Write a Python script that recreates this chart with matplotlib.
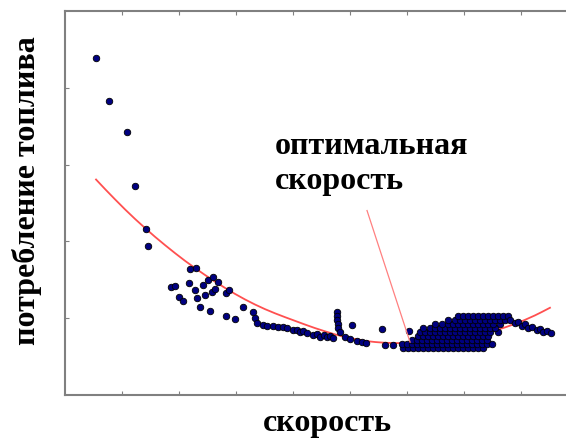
import matplotlib
matplotlib.use("Agg")
import matplotlib.pyplot as plt

# speed (km/h) vs fuel use (l/100 km)
sparse_speed = [10.9, 15.4, 21.8, 24.6, 28.4, 29.1, 43.9, 46.0, 37.2, 38.6,
                40.0, 41.4, 43.5, 45.6, 46.3, 47.4, 48.4, 49.1, 50.2, 50.9,
                51.9, 51.6, 52.6, 53.7, 56.5, 57.5, 56.5, 59.6, 62.5, 66.0,
                66.7, 67.4, 69.5, 70.9, 73.0, 74.7, 76.5, 77.9, 80.0, 81.4,
                82.5, 83.5, 84.9, 87.0, 88.4, 89.5, 90.9, 91.9, 93.0, 94.0,
                95.4, 95.4, 95.4, 95.8, 95.8, 96.5, 98.2, 100.7, 100.0, 102.5,
                104.2, 105.6, 111.2, 112.3, 115.1, 120.7]
sparse_fuel = [21.95, 19.16, 17.14, 13.64, 10.78, 9.68, 8.18, 8.25, 7.01, 7.08,
               6.36, 6.10, 7.27, 6.82, 6.30, 5.71, 7.14, 6.49, 7.47, 5.45,
               7.66, 6.69, 6.88, 7.34, 6.62, 6.82, 5.13, 4.94, 5.71, 5.39,
               5.00, 4.68, 4.55, 4.48, 4.48, 4.42, 4.42, 4.35, 4.22, 4.22,
               4.09, 4.16, 4.03, 3.90, 3.96, 3.77, 3.90, 3.77, 3.83, 3.70,
               5.39, 5.13, 4.87, 4.61, 4.35, 4.09, 3.77, 4.55, 3.64, 3.51,
               3.44, 3.38, 4.29, 3.25, 3.25, 4.16]

# dense group at high speed, one list of speeds per fuel level
row_fuel = [3.05, 3.31, 3.57, 3.83, 4.09, 4.35, 4.61, 4.87, 5.13]
row_speeds = [
    [118.6, 120.35, 122.1, 123.9, 125.6, 127.4, 129.1, 130.9, 132.6, 134.4,
     136.1, 137.9, 139.6, 141.4, 143.2, 144.9, 146.7],
    [118.25, 120.0, 121.75, 123.5, 125.3, 127.0, 128.8, 130.5, 132.3, 134.0,
     135.8, 137.5, 139.3, 141.1, 142.8, 144.6, 146.3, 148.1, 149.8],
    [121.75, 123.5, 125.3, 127.0, 128.8, 130.5, 132.3, 134.0, 135.8, 137.5,
     139.3, 141.1, 142.8, 144.6, 146.3, 148.1],
    [123.9, 125.6, 127.4, 129.1, 130.9, 132.6, 134.4, 136.1, 137.9, 139.6,
     141.4, 143.2, 144.9, 146.7, 148.4],
    [124.6, 126.3, 128.1, 129.8, 131.6, 133.3, 135.1, 136.8, 138.6, 140.4,
     142.1, 143.9, 145.6, 147.4, 149.1, 151.9],
    [125.6, 128.1, 129.8, 131.6, 133.3, 135.1, 136.8, 138.6, 140.4, 142.1,
     143.9, 145.6, 147.4, 149.1, 150.9],
    [129.8, 132.3, 134.4, 136.1, 137.9, 139.6, 141.4, 143.2, 144.9, 146.7,
     148.4, 150.2, 152.6],
    [134.4, 136.8, 138.6, 140.4, 142.1, 143.9, 145.6, 147.4, 149.1, 150.9,
     152.6, 154.4],
    [137.9, 139.6, 141.4, 143.2, 144.9, 146.7, 148.4, 150.2, 151.9, 153.7,
     155.4],
]

tail_speed = [156.1, 157.9, 158.9, 160.4, 161.4, 162.5, 163.9, 165.6, 166.7,
              167.7, 169.1, 170.5]
tail_fuel = [4.87, 4.68, 4.74, 4.48, 4.61, 4.35, 4.42, 4.22, 4.29, 4.09,
             4.16, 4.03]

# fitted trend
trend_speed = [10.9, 14.2, 17.5, 21.1, 24.6, 28.1, 31.6, 35.1, 38.6, 42.1,
               45.6, 49.1, 52.6, 56.1, 59.6, 63.2, 66.7, 70.2, 73.7, 77.2,
               80.7, 84.2, 87.7, 91.2, 94.7, 98.2, 101.8, 105.3, 108.8, 112.3,
               115.8, 119.3, 122.8, 126.3, 129.8, 133.3, 136.8, 140.4, 143.9,
               147.4, 150.9, 154.4, 157.9, 161.4, 164.9, 167.4, 170.2]
trend_fuel = [14.03, 13.38, 12.75, 12.08, 11.46, 10.87, 10.30, 9.76, 9.24,
              8.74, 8.27, 7.82, 7.39, 6.98, 6.59, 6.22, 5.89, 5.59, 5.32, 5.07,
              4.83, 4.59, 4.36, 4.15, 3.95, 3.78, 3.64, 3.52, 3.45, 3.40, 3.38,
              3.38, 3.40, 3.45, 3.51, 3.58, 3.66, 3.76, 3.89, 4.03, 4.20, 4.40,
              4.63, 4.89, 5.18, 5.41, 5.68]

# pointer from the label to the optimum
pointer_speed = [106.0, 121.1]
pointer_fuel = [12.01, 3.44]

speed = list(sparse_speed)
fuel = list(sparse_fuel)
for f, row in zip(row_fuel, row_speeds):
    speed += row
    fuel += [f] * len(row)
speed += tail_speed
fuel += tail_fuel

serif = ["Liberation Serif", "DejaVu Serif"]
label_size = 23

fig = plt.figure(figsize=(5.66, 4.41), dpi=100)
ax = fig.add_axes([0.1148, 0.1043, 0.9062, 0.8707])

ax.plot(trend_speed, trend_fuel, color="#ff5050", lw=1.3, zorder=2)
ax.scatter(speed, fuel, s=22, c="#000080", edgecolors="black",
           linewidths=0.6, zorder=3)
ax.plot(pointer_speed, pointer_fuel, color="#ff8080", lw=0.9, zorder=4)

ax.text(73.5, 15.71, "оптимальная", family=serif, fontweight="bold",
        fontsize=label_size, va="baseline", ha="left")
ax.text(73.5, 13.44, "скорость", family=serif, fontweight="bold",
        fontsize=label_size, va="baseline", ha="left")

ax.set_xlim(0, 180)
ax.set_ylim(0, 25)
ax.set_xticks([20, 40, 60, 80, 100, 120, 140, 160])
ax.set_yticks([5, 10, 15, 20])
ax.tick_params(direction="in", length=3, width=0.8, color="#808080",
               labelbottom=False, labelleft=False, top=True)
for side in ["left", "bottom", "top"]:
    ax.spines[side].set_color("#808080")
    ax.spines[side].set_linewidth(1.5)
ax.spines["right"].set_visible(False)

fig.text(0.578, 0.022, "скорость", family=serif, fontweight="bold",
         fontsize=label_size, ha="center", va="baseline")
fig.text(0.047, 0.567, "потребление топлива", family=serif,
         fontweight="bold", fontsize=label_size, rotation=90, ha="center",
         va="center")

fig.savefig("out.png", dpi=100)
